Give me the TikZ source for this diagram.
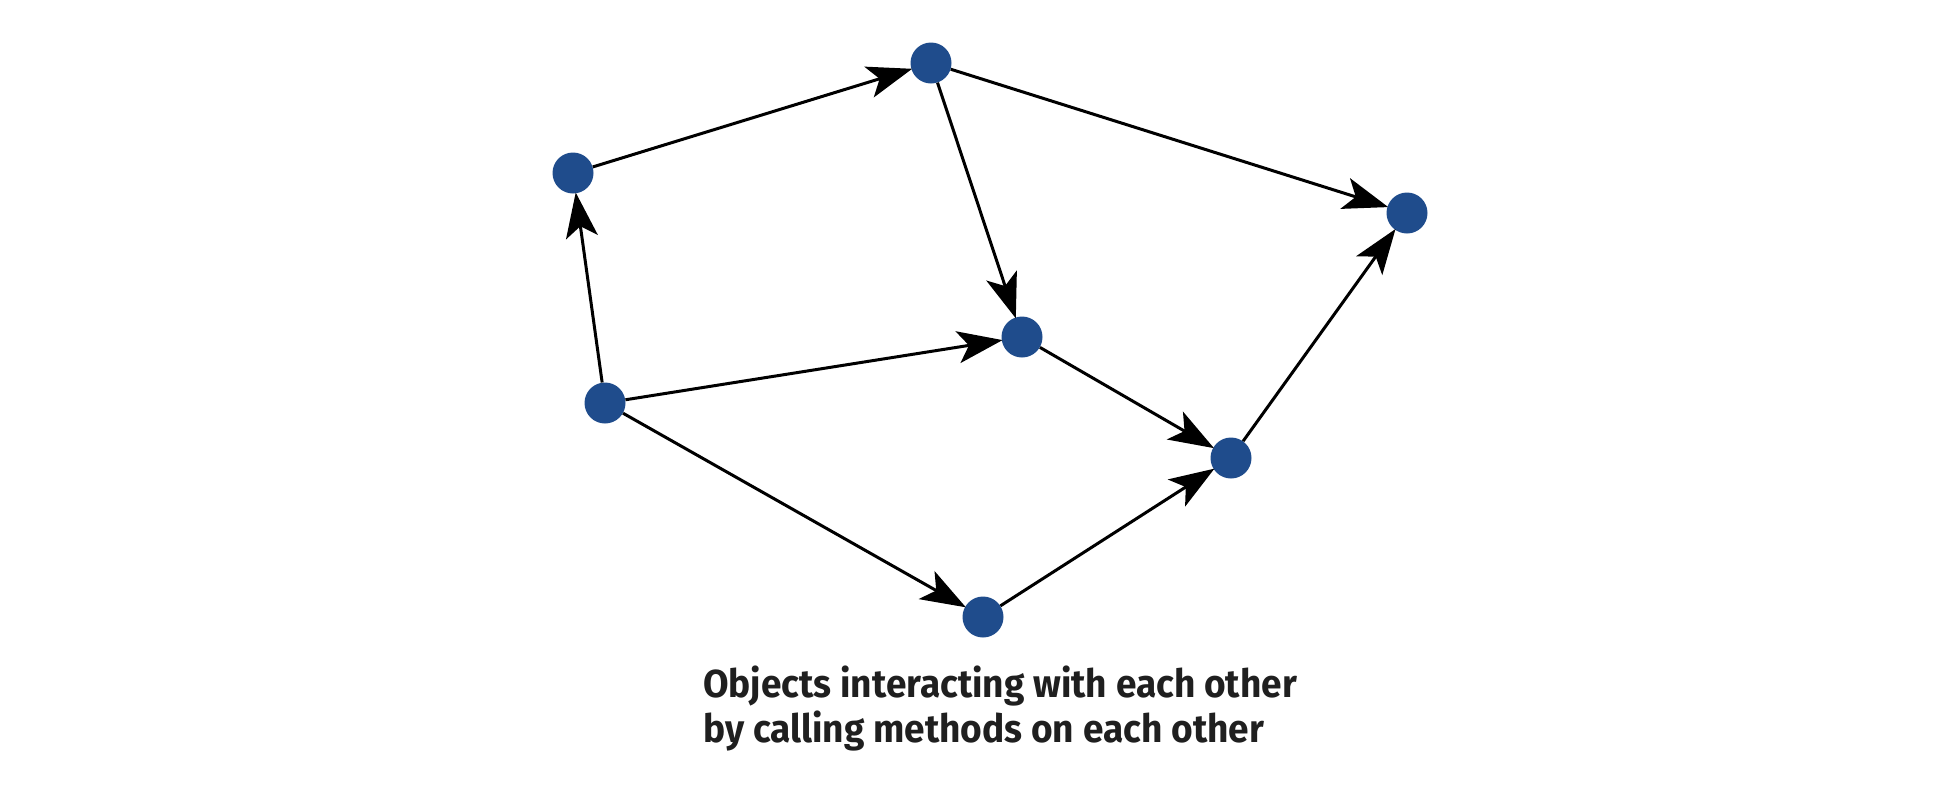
\documentclass[tikz,border=0pt]{standalone}
\usepackage{fontspec}
\newfontfamily\capfont[FakeStretch=0.95]{Fira Sans}
\usetikzlibrary{arrows.meta}
\definecolor{nodeblue}{RGB}{31,76,140}
\tikzset{
  obj/.style={circle,fill=nodeblue,inner sep=0pt,minimum size=41pt},
  call/.style={line width=3pt,draw=black,-{Stealth[length=45pt,width=32pt,inset=11pt]},shorten >=-1pt},
  caption/.style={anchor=base west,inner sep=0pt,font=\capfont\bfseries\fontsize{39}{45}\selectfont,text=black!88}
}
\begin{document}
\begin{tikzpicture}[x=1pt,y=-1pt]
\useasboundingbox (0,0) rectangle (1958,804);
\node[obj] (a) at (573,173) {};
\node[obj] (b) at (931,63) {};
\node[obj] (c) at (1407,213) {};
\node[obj] (d) at (1022,337) {};
\node[obj] (e) at (605,403) {};
\node[obj] (f) at (1231,458) {};
\node[obj] (g) at (983,617) {};
\draw[call] (a) -- (b);
\draw[call] (e) -- (a);
\draw[call] (b) -- (d);
\draw[call] (b) -- (c);
\draw[call] (e) -- (d);
\draw[call] (e) -- (g);
\draw[call] (d) -- (f);
\draw[call] (g) -- (f);
\draw[call] (f) -- (c);
\node[caption] (t1) at (703,697) {Objects interacting with each other};
\node[caption] (t2) at (703,742) {by calling methods on each other};
\end{tikzpicture}
\end{document}
